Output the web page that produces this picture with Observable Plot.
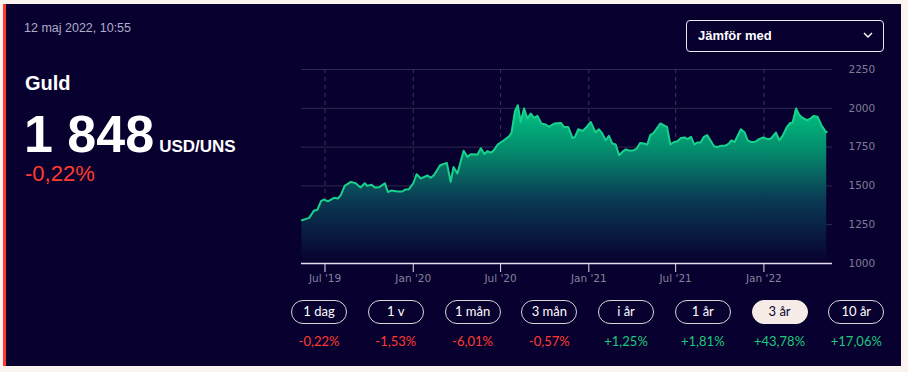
<!DOCTYPE html>
<html>
<head>
<meta charset="utf-8">
<script src="https://cdn.jsdelivr.net/npm/d3@7"></script>
<script src="https://cdn.jsdelivr.net/npm/@observablehq/plot@0.6"></script>
<style>
  html, body { margin: 0; padding: 0; }
  body { width: 908px; height: 372px; background: #faf3ef; position: relative; overflow: hidden; font-family: "Liberation Sans", Arial, sans-serif; }
  #panel { position: absolute; left: 3px; top: 4px; width: 898px; height: 362px; background: #08002f; border-left: 3px solid #ff3b2f; box-sizing: border-box; }
  .abs { position: absolute; white-space: nowrap; }
  #stamp { left: 24px; top: 22.4px; font-size: 12.5px; line-height: 12.5px; color: #aeadc8; }
  #name { left: 25px; top: 73px; font-size: 20px; line-height: 20px; font-weight: bold; color: #fff; }
  #price { left: 24px; top: 108px; font-size: 52px; line-height: 52px; font-weight: bold; color: #fff; }
  #price .unit { font-size: 17px; margin-left: 5px; }
  #chg { left: 25px; top: 163px; font-size: 22px; line-height: 22px; color: #ff3b2f; }
  #dd { left: 686px; top: 20px; width: 198px; height: 32px; box-sizing: border-box; border: 1px solid #ece8f2; border-radius: 4px; }
  #dd span { position: absolute; left: 11px; top: 0; line-height: 29px; font-size: 13px; font-weight: bold; color: #fff; }
  #dd svg { position: absolute; left: 176px; top: 11px; }
  #chart { position: absolute; left: 0; top: 0; }
  .pill { position: absolute; top: 300px; width: 56px; height: 24px; box-sizing: border-box; border: 1.4px solid #ddd3d6; border-radius: 12px; color: #fff; font-family: Lato, sans-serif; font-size: 13px; line-height: 21px; text-align: center; }
  .pill.active { background: #f6ebe6; border-color: #f6ebe6; color: #0a0530; }
  .pct { position: absolute; top: 333px; width: 76px; text-align: center; font-family: Lato, sans-serif; font-size: 13px; line-height: 16px; }
</style>
</head>
<body>
<div id="panel"></div>
<div id="chart"></div>
<div class="abs" id="stamp">12 maj 2022, 10:55</div>
<div class="abs" id="name">Guld</div>
<div class="abs" id="price">1 848<span class="unit">USD/UNS</span></div>
<div class="abs" id="chg">-0,22%</div>
<div class="abs" id="dd"><span>Jämför med</span><svg width="10" height="7" viewBox="0 0 10 7"><polyline points="1,1 5,5 9,1" fill="none" stroke="#fff" stroke-width="1.4"/></svg></div>
<div id="buttons"></div>
<script>
// ---- data ----
const dates = [
  "2019-05-14","2019-05-29","2019-06-08","2019-06-15","2019-06-23","2019-06-29","2019-07-07","2019-07-20","2019-07-28","2019-08-03",
  "2019-08-11","2019-08-24","2019-09-03","2019-09-13","2019-09-22","2019-09-27","2019-10-06","2019-10-13","2019-10-22","2019-11-03",
  "2019-11-09","2019-11-16","2019-11-29","2019-12-09","2019-12-16","2019-12-23","2020-01-01","2020-01-08","2020-01-17","2020-01-31",
  "2020-02-06","2020-02-13","2020-02-26","2020-03-11","2020-03-19","2020-03-25","2020-04-02","2020-04-15","2020-04-23","2020-04-30",
  "2020-05-14","2020-05-21","2020-05-28","2020-06-04","2020-06-11","2020-06-17","2020-06-25","2020-07-08","2020-07-19","2020-07-24",
  "2020-07-31","2020-08-06","2020-08-12","2020-08-19","2020-08-26","2020-09-02","2020-09-09","2020-09-16","2020-09-24","2020-10-03",
  "2020-10-10","2020-10-21","2020-11-04","2020-11-10","2020-11-19","2020-11-28","2020-12-03","2020-12-10","2020-12-19","2020-12-26",
  "2021-01-05","2021-01-15","2021-01-22","2021-01-29","2021-02-05","2021-02-12","2021-02-19","2021-02-26","2021-03-05","2021-03-12",
  "2021-03-19","2021-03-28","2021-04-05","2021-04-11","2021-04-18","2021-04-26","2021-05-03","2021-05-09","2021-05-16","2021-05-30",
  "2021-06-13","2021-06-20","2021-06-28","2021-07-05","2021-07-12","2021-07-20","2021-07-26","2021-08-02","2021-08-09","2021-08-16",
  "2021-08-22","2021-08-29","2021-09-05","2021-09-19","2021-09-26","2021-10-03","2021-10-12","2021-10-20","2021-10-25","2021-11-01",
  "2021-11-14","2021-11-22","2021-11-28","2021-12-05","2021-12-13","2021-12-22","2021-12-31","2022-01-09","2022-01-16","2022-01-26",
  "2022-02-02","2022-02-09","2022-02-18","2022-02-25","2022-03-02","2022-03-09","2022-03-16","2022-03-23","2022-04-01","2022-04-08",
  "2022-04-15","2022-04-23","2022-05-01","2022-05-10","2022-05-12"
];
const prices = [
  1279,1294,1341,1345,1403,1412,1401,1423,1419,1440,
  1500,1526,1517,1490,1517,1500,1507,1490,1492,1516,
  1461,1470,1464,1464,1477,1479,1517,1575,1548,1567,
  1552,1569,1633,1648,1526,1622,1580,1726,1687,1704,
  1702,1743,1706,1724,1713,1730,1767,1794,1820,1844,
  1981,2020,1912,1999,1934,1966,1938,1951,1902,1896,
  1880,1902,1906,1880,1880,1809,1814,1865,1854,1874,
  1912,1844,1865,1838,1793,1822,1773,1767,1698,1719,
  1735,1726,1730,1741,1777,1773,1767,1827,1841,1902,
  1880,1767,1783,1788,1809,1812,1801,1816,1767,1780,
  1780,1816,1827,1756,1751,1758,1758,1773,1793,1783,
  1865,1844,1794,1783,1783,1801,1812,1801,1806,1844,
  1794,1822,1880,1906,1909,1999,1956,1938,1923,1934,
  1951,1945,1891,1848,1848
];
const yTicks = [1000, 1250, 1500, 1750, 2000, 2250];
const xTickDates = ["2019-07-01","2020-01-01","2020-07-01","2021-01-01","2021-07-01","2022-01-01"];
const xTickLabels = ["Jul '19","Jan '20","Jul '20","Jan '21","Jul '21","Jan '22"];
const periods = ["1 dag","1 v","1 mån","3 mån","i år","1 år","3 år","10 år"];
const changes = ["-0,22%","-1,53%","-6,01%","-0,57%","+1,25%","+1,81%","+43,78%","+17,06%"];
const activePeriod = "3 år";

// ---- chart ----
const data = dates.map((d, i) => ({date: new Date(d), price: prices[i]}));
const xTicks = xTickDates.map(d => new Date(d));
const labelOf = d => xTickLabels[xTickDates.indexOf(d3.utcFormat("%Y-%m-%d")(d))];

const svg = Plot.plot({
  width: 908,
  height: 300,
  marginLeft: 301,
  marginRight: 76,
  marginTop: 69,
  marginBottom: 37,
  style: {background: "transparent", fontFamily: "DejaVu Sans", fontSize: "10.5px", color: "#85839a"},
  x: {type: "utc", domain: [new Date("2019-05-13"), new Date("2022-05-24")]},
  y: {domain: [1000, 2250]},
  marks: [
    Plot.gridY(yTicks.filter(t => t > 1000), {stroke: "#2f2a4f", strokeOpacity: 1, strokeWidth: 1}),
    Plot.gridX(xTicks, {stroke: "#3a3559", strokeOpacity: 1, strokeDasharray: "4,4"}),
    Plot.areaY(data, {x: "date", y1: 1000, y2: "price", fill: "url(#goldGrad)", curve: "linear"}),
    Plot.lineY(data, {x: "date", y: "price", stroke: "#17d18c", strokeWidth: 2, curve: "linear"}),
    Plot.ruleY([1000], {stroke: "#e2def0", strokeWidth: 1.5}),
    Plot.axisX(xTicks, {tickSize: 9, tickPadding: 2, stroke: "#e2def0", fill: "#85839a", tickFormat: labelOf, label: null}),
    Plot.axisY(yTicks, {anchor: "right", tickSize: 0, tickPadding: 16, tickFormat: d => String(d), fill: "#7f7d94", label: null})
  ]
});

const ns = "http://www.w3.org/2000/svg";
const defs = document.createElementNS(ns, "defs");
defs.innerHTML = `<linearGradient id="goldGrad" x1="0" y1="0" x2="0" y2="1">
  <stop offset="0" stop-color="#00c783"/>
  <stop offset="0.3" stop-color="#04896c"/>
  <stop offset="0.6" stop-color="#0a3a54"/>
  <stop offset="1" stop-color="#08002f"/>
</linearGradient>`;
svg.insertBefore(defs, svg.firstChild);
document.getElementById("chart").appendChild(svg);

// ---- buttons ----
const btns = document.getElementById("buttons");
periods.forEach((p, i) => {
  const left = 291 + i * 76.76;
  const b = document.createElement("div");
  b.className = "pill" + (p === activePeriod ? " active" : "");
  b.style.left = left + "px";
  b.textContent = p;
  btns.appendChild(b);
  const c = document.createElement("div");
  c.className = "pct";
  c.style.left = (left + 28 - 38) + "px";
  c.style.color = changes[i].startsWith("-") ? "#ff3b30" : "#1cc97e";
  c.textContent = changes[i];
  btns.appendChild(c);
});
</script>
</body>
</html>
